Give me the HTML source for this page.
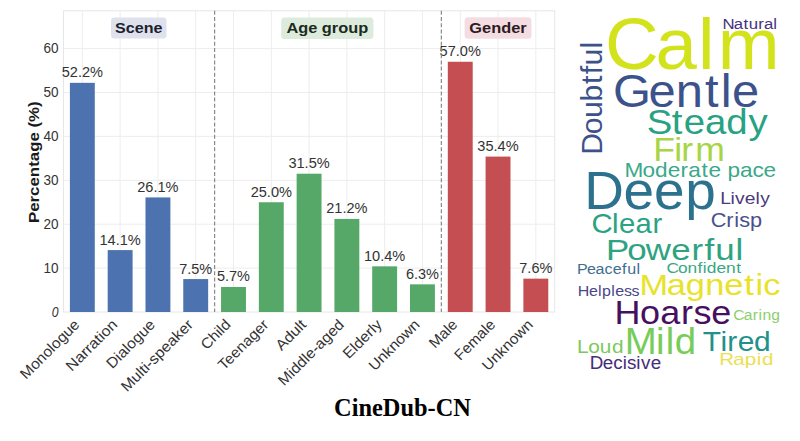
<!DOCTYPE html><html><head><meta charset="utf-8"><style>html,body{margin:0;padding:0;background:#fff;width:800px;height:441px;overflow:hidden}svg{display:block}</style></head><body>
<svg width="800" height="441" viewBox="0 0 800 441">
<rect width="800" height="441" fill="#fff"/>
<line x1="63.45" y1="268.10" x2="554.72" y2="268.10" stroke="#ededed" stroke-width="1"/>
<line x1="63.45" y1="224.20" x2="554.72" y2="224.20" stroke="#ededed" stroke-width="1"/>
<line x1="63.45" y1="180.30" x2="554.72" y2="180.30" stroke="#ededed" stroke-width="1"/>
<line x1="63.45" y1="136.40" x2="554.72" y2="136.40" stroke="#ededed" stroke-width="1"/>
<line x1="63.45" y1="92.50" x2="554.72" y2="92.50" stroke="#ededed" stroke-width="1"/>
<line x1="63.45" y1="48.60" x2="554.72" y2="48.60" stroke="#ededed" stroke-width="1"/>
<line x1="82.34" y1="10.80" x2="82.34" y2="312.00" stroke="#ededed" stroke-width="1"/>
<line x1="120.14" y1="10.80" x2="120.14" y2="312.00" stroke="#ededed" stroke-width="1"/>
<line x1="157.93" y1="10.80" x2="157.93" y2="312.00" stroke="#ededed" stroke-width="1"/>
<line x1="195.71" y1="10.80" x2="195.71" y2="312.00" stroke="#ededed" stroke-width="1"/>
<line x1="233.50" y1="10.80" x2="233.50" y2="312.00" stroke="#ededed" stroke-width="1"/>
<line x1="271.30" y1="10.80" x2="271.30" y2="312.00" stroke="#ededed" stroke-width="1"/>
<line x1="309.08" y1="10.80" x2="309.08" y2="312.00" stroke="#ededed" stroke-width="1"/>
<line x1="346.88" y1="10.80" x2="346.88" y2="312.00" stroke="#ededed" stroke-width="1"/>
<line x1="384.66" y1="10.80" x2="384.66" y2="312.00" stroke="#ededed" stroke-width="1"/>
<line x1="422.45" y1="10.80" x2="422.45" y2="312.00" stroke="#ededed" stroke-width="1"/>
<line x1="460.25" y1="10.80" x2="460.25" y2="312.00" stroke="#ededed" stroke-width="1"/>
<line x1="498.03" y1="10.80" x2="498.03" y2="312.00" stroke="#ededed" stroke-width="1"/>
<line x1="535.83" y1="10.80" x2="535.83" y2="312.00" stroke="#ededed" stroke-width="1"/>
<rect x="63.45" y="10.80" width="491.27" height="301.20" fill="none" stroke="#e6e6e6" stroke-width="1"/>
<rect x="111" y="17.5" width="55.5" height="21.0" rx="3.5" fill="#dfe1ed"/>
<text x="138.75" y="32.60" font-family="Liberation Sans" font-size="14.84" font-weight="bold" fill="#1c1f2e" text-anchor="middle" textLength="47.34" lengthAdjust="spacingAndGlyphs" >Scene</text>
<rect x="281.2" y="17.5" width="92.2" height="21.5" rx="3.5" fill="#dcebdc"/>
<text x="327.30" y="32.60" font-family="Liberation Sans" font-size="14.84" font-weight="bold" fill="#1a2a1c" text-anchor="middle" textLength="81.76" lengthAdjust="spacingAndGlyphs" >Age group</text>
<rect x="464.6" y="17.3" width="66.9" height="21.4" rx="3.5" fill="#f3dde2"/>
<text x="498.05" y="32.60" font-family="Liberation Sans" font-size="14.84" font-weight="bold" fill="#2e1a20" text-anchor="middle" textLength="57.37" lengthAdjust="spacingAndGlyphs" >Gender</text>
<rect x="69.89" y="82.84" width="24.90" height="229.16" fill="#4c72b0"/>
<text x="82.34" y="77.34" font-family="Liberation Sans" font-size="13.78" font-weight="normal" fill="#333333" text-anchor="middle" textLength="41.30" lengthAdjust="spacingAndGlyphs" >52.2%</text>
<rect x="107.69" y="250.10" width="24.90" height="61.90" fill="#4c72b0"/>
<text x="120.14" y="244.60" font-family="Liberation Sans" font-size="13.78" font-weight="normal" fill="#333333" text-anchor="middle" textLength="41.30" lengthAdjust="spacingAndGlyphs" >14.1%</text>
<rect x="145.48" y="197.42" width="24.90" height="114.58" fill="#4c72b0"/>
<text x="157.93" y="191.92" font-family="Liberation Sans" font-size="13.78" font-weight="normal" fill="#333333" text-anchor="middle" textLength="41.30" lengthAdjust="spacingAndGlyphs" >26.1%</text>
<rect x="183.26" y="279.07" width="24.90" height="32.92" fill="#4c72b0"/>
<text x="195.71" y="273.57" font-family="Liberation Sans" font-size="13.78" font-weight="normal" fill="#333333" text-anchor="middle" textLength="33.03" lengthAdjust="spacingAndGlyphs" >7.5%</text>
<rect x="221.06" y="286.98" width="24.90" height="25.02" fill="#55a868"/>
<text x="233.50" y="281.48" font-family="Liberation Sans" font-size="13.78" font-weight="normal" fill="#333333" text-anchor="middle" textLength="33.03" lengthAdjust="spacingAndGlyphs" >5.7%</text>
<rect x="258.85" y="202.25" width="24.90" height="109.75" fill="#55a868"/>
<text x="271.30" y="196.75" font-family="Liberation Sans" font-size="13.78" font-weight="normal" fill="#333333" text-anchor="middle" textLength="41.30" lengthAdjust="spacingAndGlyphs" >25.0%</text>
<rect x="296.63" y="173.72" width="24.90" height="138.28" fill="#55a868"/>
<text x="309.08" y="168.22" font-family="Liberation Sans" font-size="13.78" font-weight="normal" fill="#333333" text-anchor="middle" textLength="41.30" lengthAdjust="spacingAndGlyphs" >31.5%</text>
<rect x="334.43" y="218.93" width="24.90" height="93.07" fill="#55a868"/>
<text x="346.88" y="213.43" font-family="Liberation Sans" font-size="13.78" font-weight="normal" fill="#333333" text-anchor="middle" textLength="41.30" lengthAdjust="spacingAndGlyphs" >21.2%</text>
<rect x="372.21" y="266.34" width="24.90" height="45.66" fill="#55a868"/>
<text x="384.66" y="260.84" font-family="Liberation Sans" font-size="13.78" font-weight="normal" fill="#333333" text-anchor="middle" textLength="41.30" lengthAdjust="spacingAndGlyphs" >10.4%</text>
<rect x="410.00" y="284.34" width="24.90" height="27.66" fill="#55a868"/>
<text x="422.45" y="278.84" font-family="Liberation Sans" font-size="13.78" font-weight="normal" fill="#333333" text-anchor="middle" textLength="33.03" lengthAdjust="spacingAndGlyphs" >6.3%</text>
<rect x="447.80" y="61.77" width="24.90" height="250.23" fill="#c44e52"/>
<text x="460.25" y="56.27" font-family="Liberation Sans" font-size="13.78" font-weight="normal" fill="#333333" text-anchor="middle" textLength="41.30" lengthAdjust="spacingAndGlyphs" >57.0%</text>
<rect x="485.58" y="156.59" width="24.90" height="155.41" fill="#c44e52"/>
<text x="498.03" y="151.09" font-family="Liberation Sans" font-size="13.78" font-weight="normal" fill="#333333" text-anchor="middle" textLength="41.30" lengthAdjust="spacingAndGlyphs" >35.4%</text>
<rect x="523.38" y="278.64" width="24.90" height="33.36" fill="#c44e52"/>
<text x="535.83" y="273.14" font-family="Liberation Sans" font-size="13.78" font-weight="normal" fill="#333333" text-anchor="middle" textLength="33.03" lengthAdjust="spacingAndGlyphs" >7.6%</text>
<line x1="214.61" y1="10.80" x2="214.61" y2="312.00" stroke="#8a8a8a" stroke-width="1.2" stroke-dasharray="4 2.2"/>
<line x1="441.35" y1="10.80" x2="441.35" y2="312.00" stroke="#8a8a8a" stroke-width="1.2" stroke-dasharray="4 2.2"/>
<text id="yt0" x="58.50" y="316.80" font-family="Liberation Sans" font-size="13.78" font-weight="normal" fill="#333333" text-anchor="end" textLength="6.77" lengthAdjust="spacingAndGlyphs" font-style="italic">0</text>
<text id="yt10" x="58.50" y="272.90" font-family="Liberation Sans" font-size="13.78" font-weight="normal" fill="#333333" text-anchor="end" textLength="15.04" lengthAdjust="spacingAndGlyphs" >10</text>
<text id="yt20" x="58.50" y="229.00" font-family="Liberation Sans" font-size="13.78" font-weight="normal" fill="#333333" text-anchor="end" textLength="15.04" lengthAdjust="spacingAndGlyphs" >20</text>
<text id="yt30" x="58.50" y="185.10" font-family="Liberation Sans" font-size="13.78" font-weight="normal" fill="#333333" text-anchor="end" textLength="15.04" lengthAdjust="spacingAndGlyphs" >30</text>
<text id="yt40" x="58.50" y="141.20" font-family="Liberation Sans" font-size="13.78" font-weight="normal" fill="#333333" text-anchor="end" textLength="15.04" lengthAdjust="spacingAndGlyphs" >40</text>
<text id="yt50" x="58.50" y="97.30" font-family="Liberation Sans" font-size="13.78" font-weight="normal" fill="#333333" text-anchor="end" textLength="15.04" lengthAdjust="spacingAndGlyphs" >50</text>
<text id="yt60" x="58.50" y="53.40" font-family="Liberation Sans" font-size="13.78" font-weight="normal" fill="#333333" text-anchor="end" textLength="15.04" lengthAdjust="spacingAndGlyphs" >60</text>
<text x="0.00" y="0.00" font-family="Liberation Sans" font-size="14.84" font-weight="bold" fill="#1a1a1a" text-anchor="middle" textLength="121.78" lengthAdjust="spacingAndGlyphs" transform="translate(39.2,162.2) rotate(-90)">Percentage (%)</text>
<text id="xt0" x="0.00" y="0.00" font-family="Liberation Sans" font-size="14.84" font-weight="normal" fill="#333333" text-anchor="end" textLength="76.91" lengthAdjust="spacingAndGlyphs" transform="translate(80.47,325.52) rotate(-45)">Monologue</text>
<text id="xt1" x="0.00" y="0.00" font-family="Liberation Sans" font-size="14.84" font-weight="normal" fill="#333333" text-anchor="end" textLength="65.71" lengthAdjust="spacingAndGlyphs" transform="translate(118.26,325.52) rotate(-45)">Narration</text>
<text id="xt2" x="0.00" y="0.00" font-family="Liberation Sans" font-size="14.84" font-weight="normal" fill="#333333" text-anchor="end" textLength="62.08" lengthAdjust="spacingAndGlyphs" transform="translate(156.05,325.52) rotate(-45)">Dialogue</text>
<text id="xt3" x="0.00" y="0.00" font-family="Liberation Sans" font-size="14.84" font-weight="normal" fill="#333333" text-anchor="end" textLength="94.62" lengthAdjust="spacingAndGlyphs" transform="translate(193.84,325.52) rotate(-45)">Multi-speaker</text>
<text id="xt4" x="0.00" y="0.00" font-family="Liberation Sans" font-size="14.84" font-weight="normal" fill="#333333" text-anchor="end" textLength="35.31" lengthAdjust="spacingAndGlyphs" transform="translate(231.63,325.52) rotate(-45)">Child</text>
<text id="xt5" x="0.00" y="0.00" font-family="Liberation Sans" font-size="14.84" font-weight="normal" fill="#333333" text-anchor="end" textLength="64.11" lengthAdjust="spacingAndGlyphs" transform="translate(269.42,325.52) rotate(-45)">Teenager</text>
<text id="xt6" x="0.00" y="0.00" font-family="Liberation Sans" font-size="14.84" font-weight="normal" fill="#333333" text-anchor="end" textLength="36.47" lengthAdjust="spacingAndGlyphs" transform="translate(307.21,325.52) rotate(-45)">Adult</text>
<text id="xt7" x="0.00" y="0.00" font-family="Liberation Sans" font-size="14.84" font-weight="normal" fill="#333333" text-anchor="end" textLength="86.27" lengthAdjust="spacingAndGlyphs" transform="translate(345.00,325.52) rotate(-45)">Middle-aged</text>
<text id="xt8" x="0.00" y="0.00" font-family="Liberation Sans" font-size="14.84" font-weight="normal" fill="#333333" text-anchor="end" textLength="48.17" lengthAdjust="spacingAndGlyphs" transform="translate(382.79,325.52) rotate(-45)">Elderly</text>
<text id="xt9" x="0.00" y="0.00" font-family="Liberation Sans" font-size="14.84" font-weight="normal" fill="#333333" text-anchor="end" textLength="64.99" lengthAdjust="spacingAndGlyphs" transform="translate(420.58,325.52) rotate(-45)">Unknown</text>
<text id="xt10" x="0.00" y="0.00" font-family="Liberation Sans" font-size="14.84" font-weight="normal" fill="#333333" text-anchor="end" textLength="33.16" lengthAdjust="spacingAndGlyphs" transform="translate(458.37,325.52) rotate(-45)">Male</text>
<text id="xt11" x="0.00" y="0.00" font-family="Liberation Sans" font-size="14.84" font-weight="normal" fill="#333333" text-anchor="end" textLength="50.62" lengthAdjust="spacingAndGlyphs" transform="translate(496.16,325.52) rotate(-45)">Female</text>
<text id="xt12" x="0.00" y="0.00" font-family="Liberation Sans" font-size="14.84" font-weight="normal" fill="#333333" text-anchor="end" textLength="64.99" lengthAdjust="spacingAndGlyphs" transform="translate(533.95,325.52) rotate(-45)">Unknown</text>
<text x="402.5" y="416" font-family="Liberation Serif" font-weight="bold" font-size="24.4" fill="#000" text-anchor="middle">CineDub-CN</text>
<text id="w_Calm" x="-3.16 46.57 88.44 107.79" y="0" font-family="Liberation Sans" font-size="73.15" fill="#d2e21b" transform="translate(608.24,69.04) scale(1.0158,1)"  style="white-space:pre">Calm</text>
<text id="w_Natural" x="-0.51 9.54 18.11 22.69 31.11 36.09 44.33" y="0" font-family="Liberation Sans" font-size="14.82" fill="#46327e" transform="translate(723.02,29.02) scale(1.1322,1)"  style="white-space:pre">Natural</text>
<text id="w_Doubtful" x="-0.81 18.79 34.30 50.09 66.89 76.15 84.42 100.57" y="0" font-family="Liberation Sans" font-size="28.79" fill="#3b528b" transform="translate(601.50,154.00) rotate(-90) scale(1.0481,1)"  style="white-space:pre">Doubtful</text>
<text id="w_Gentle" x="-2.05 31.95 57.85 85.61 100.80 111.55" y="0" font-family="Liberation Sans" font-size="46.59" fill="#3b528b" transform="translate(615.10,107.24) scale(1.0492,1)"  style="white-space:pre">Gentle</text>
<text id="w_Steady" x="-1.76 21.40 32.43 51.88 71.65 92.07" y="0" font-family="Liberation Sans" font-size="35.43" fill="#28a283" transform="translate(648.68,134.14) scale(1.0834,1)"  style="white-space:pre">Steady</text>
<text id="w_Firm" x="-1.25 18.37 24.93 38.03" y="0" font-family="Liberation Sans" font-size="33.20" fill="#a8d545" transform="translate(654.56,161.42) scale(1.0725,1)"  style="white-space:pre">Firm</text>
<text id="w_Moderate_pace" x="-0.63 14.91 25.75 36.63 47.74 54.47 65.93 71.98 82.81 88.39 99.24 109.91 119.50" y="0" font-family="Liberation Sans" font-size="19.53" fill="#3aa98a" transform="translate(625.28,177.16) scale(1.1567,1)"  style="white-space:pre">Moderate pace</text>
<text id="w_Lively" x="-0.58 8.61 12.80 21.44 31.07 35.26" y="0" font-family="Liberation Sans" font-size="17.23" fill="#4a3a7c" transform="translate(720.80,204.32) scale(1.1180,1)"  style="white-space:pre">Lively</text>
<text id="w_Deep" x="-0.63 36.93 66.39 96.33" y="0" font-family="Liberation Sans" font-size="52.80" fill="#2c728e" transform="translate(585.00,209.36) scale(1.0409,1)"  style="white-space:pre">Deep</text>
<text id="w_Clear" x="-1.16 17.97 24.60 40.02 55.94" y="0" font-family="Liberation Sans" font-size="27.49" fill="#2aa383" transform="translate(592.82,233.34) scale(1.0650,1)"  style="white-space:pre">Clear</text>
<text id="w_Crisp" x="-0.83 13.46 21.01 25.63 35.83" y="0" font-family="Liberation Sans" font-size="20.31" fill="#4a508b" transform="translate(711.76,227.40) scale(1.0700,1)"  style="white-space:pre">Crisp</text>
<text id="w_Powerful" x="-1.82 16.61 32.82 55.10 72.64 84.00 93.36 111.00" y="0" font-family="Liberation Sans" font-size="30.38" fill="#2ea381" transform="translate(608.18,260.16) scale(1.1470,1)"  style="white-space:pre">Powerful</text>
<text id="w_Confident" x="-0.81 9.27 17.65 26.40 31.07 34.66 43.07 51.47 60.49" y="0" font-family="Liberation Sans" font-size="15.24" fill="#3aa784" transform="translate(667.40,273.10) scale(1.1387,1)"  style="white-space:pre">Confident</text>
<text id="w_Peaceful" x="-0.84 8.44 16.45 24.93 32.58 41.38 46.11 54.94" y="0" font-family="Liberation Sans" font-size="15.04" fill="#406e8f" transform="translate(578.00,273.56) scale(1.0663,1)"  style="white-space:pre">Peaceful</text>
<text id="w_Magnetic" x="-1.03 22.75 39.35 56.22 72.84 90.41 100.15 106.99" y="0" font-family="Liberation Sans" font-size="30.02" fill="#e8e22a" transform="translate(640.66,294.98) scale(1.1468,1)"  style="white-space:pre">Magnetic</text>
<text id="w_Helpless" x="-0.27 9.64 17.69 21.18 29.35 32.72 40.37 47.03" y="0" font-family="Liberation Sans" font-size="14.05" fill="#4a468a" transform="translate(578.00,295.96) scale(1.1369,1)"  style="white-space:pre">Helpless</text>
<text id="w_Hoarse" x="-0.58 23.16 41.96 61.43 72.94 89.44" y="0" font-family="Liberation Sans" font-size="33.58" fill="#470f60" transform="translate(615.22,323.62) scale(1.0728,1)"  style="white-space:pre">Hoarse</text>
<text id="w_Caring" x="-0.65 8.79 16.81 21.94 25.35 33.36" y="0" font-family="Liberation Sans" font-size="14.01" fill="#8ccf6e" transform="translate(734.00,320.26) scale(1.1198,1)"  style="white-space:pre">Caring</text>
<text id="w_Mild" x="-1.15 28.77 37.88 46.71" y="0" font-family="Liberation Sans" font-size="36.72" fill="#78cc5a" transform="translate(626.04,353.84) scale(1.0455,1)"  style="white-space:pre">Mild</text>
<text id="w_Loud" x="-0.42 9.94 20.68 31.92" y="0" font-family="Liberation Sans" font-size="19.29" fill="#7dc85e" transform="translate(577.52,353.20) scale(1.0792,1)"  style="white-space:pre">Loud</text>
<text id="w_Tired" x="-0.85 15.18 21.30 30.73 45.36" y="0" font-family="Liberation Sans" font-size="27.03" fill="#21918c" transform="translate(703.80,351.34) scale(1.1068,1)"  style="white-space:pre">Tired</text>
<text id="w_Decisive" x="-0.29 12.38 22.29 31.47 35.42 44.37 48.88 58.12" y="0" font-family="Liberation Sans" font-size="18.02" fill="#472c7a" transform="translate(589.92,369.42) scale(1.0449,1)"  style="white-space:pre">Decisive</text>
<text id="w_Rapid" x="-0.68 10.77 20.04 29.85 34.09" y="0" font-family="Liberation Sans" font-size="16.69" fill="#ebe055" transform="translate(720.02,364.52) scale(1.2326,1)"  style="white-space:pre">Rapid</text>
</svg></body></html>
